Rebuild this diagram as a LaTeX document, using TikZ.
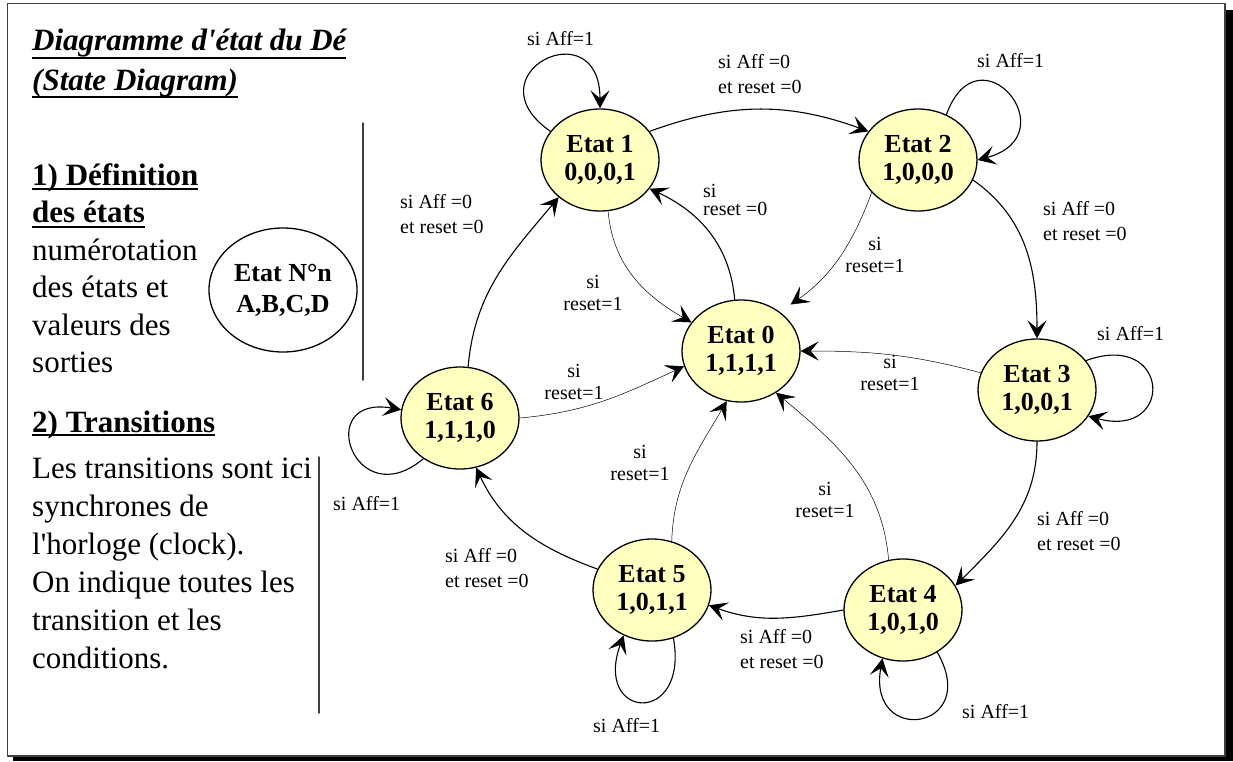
\documentclass[tikz,border=0pt]{standalone}
\usepackage{fontspec}
\setmainfont{Liberation Serif}
\usetikzlibrary{arrows.meta,shapes.geometric}
\definecolor{jaune}{RGB}{255,255,192}
\newsavebox{\boitesoul}
\newcommand{\souligne}[2][5pt]{\sbox{\boitesoul}{#2}\rlap{\rule[-#1]{\wd\boitesoul}{2pt}}\usebox{\boitesoul}}
\begin{document}
\begin{tikzpicture}[x=1pt,y=1pt,line join=round,line cap=round,
  >={Stealth[length=18pt,width=19pt,inset=8pt]},
  etat/.style={ellipse,draw,line width=1.3pt,fill=jaune,minimum width=118pt,minimum height=102pt,inner sep=0pt,align=center,font=\fontsize{26}{28}\selectfont\bfseries},
  cond/.style={anchor=base west,inner sep=0pt,align=left,font=\fontsize{20}{25}\selectfont},
  condc/.style={anchor=base,inner sep=0pt,align=center,font=\fontsize{20}{22}\selectfont},
  aff/.style={->,line width=1.1pt},
  rst/.style={->,line width=0.5pt},
  txt/.style={anchor=base west,inner sep=0pt,align=left,font=\fontsize{31}{37.5}\selectfont}]
\useasboundingbox (0,0) rectangle (1233,-761);
% cadre et ombre
\fill (13,-10) rectangle (1233,-761);
\draw[fill=white,draw=black!75,line width=1.5pt] (7.5,-3.5) rectangle (1225,-756);
% colonne de gauche (ancrage sur la derniere ligne)
\node[txt,font=\fontsize{31}{40}\selectfont\bfseries\itshape] (titre) at (32,-90)
  {\souligne[9pt]{Diagramme d\textquotesingle état du Dé}\\\souligne[8pt]{(State Diagram)}};
\node[txt] (defin) at (32,-372.5) {\textbf{\souligne{1) Définition}}\\\textbf{\souligne{des états}}\\numérotation\\des états et\\valeurs des\\sorties};
\node[txt] (trans) at (32,-432) {\textbf{\souligne[4pt]{2) Transitions}}};
\node[txt,font=\fontsize{31}{38}\selectfont] (expl) at (32,-668) {Les transitions sont ici\\synchrones de\\l\textquotesingle horloge (clock).\\On indique toutes les\\transition et les\\conditions.};
\node[ellipse,draw,line width=1.3pt,minimum width=148pt,minimum height=124pt,inner sep=0pt,align=center,font=\fontsize{26}{31}\selectfont\bfseries] (legende) at (283,-290) {Etat N°n\\A,B,C,D};
\draw[line width=1.5pt,black!75] (363,-123) -- (363,-380);
\draw[line width=1.5pt,black!75] (319,-457) -- (319,-713);
% etats
\node[etat] (e0) at (741,-351) {Etat 0\\1,1,1,1};
\node[etat] (e1) at (600,-160) {Etat 1\\0,0,0,1};
\node[etat] (e2) at (918,-160) {Etat 2\\1,0,0,0};
\node[etat] (e3) at (1037,-390) {Etat 3\\1,0,0,1};
\node[etat] (e4) at (903,-610) {Etat 4\\1,0,1,0};
\node[etat] (e5) at (652,-590) {Etat 5\\1,0,1,1};
\node[etat] (e6) at (460,-418) {Etat 6\\1,1,1,0};
% transitions Aff=0
\draw[aff] (e1.30) to[out=20,in=160] (e2.150);
\draw[aff] (e2.-20) to[out=-35,in=90] (e3.90);
\draw[aff] (e3.-90) to[out=-90,in=45] (e4.25);
\draw[aff] (e4.180) to[out=190,in=-20] (e5.-15);
\draw[aff] (e5.159) to[out=160,in=-65] (e6.-72);
\draw[aff] (e6.81) to[out=85,in=230] (e1.222);
% boucles Aff=1
\draw[aff] (e1.150) to[out=145,in=90,distance=100pt] (e1.90);
\draw[aff] (e2.58) to[out=70,in=15,distance=95pt] (e2.0);
\draw[aff] (e3.31) to[out=20,in=-15,distance=90pt] (e3.-27);
\draw[aff] (e4.-51) to[out=-60,in=-100,distance=90pt] (e4.-113);
\draw[aff] (e5.-66) to[out=-80,in=-110,distance=90pt] (e5.-122);
\draw[aff] (e6.-132) to[out=-140,in=170,distance=90pt] (e6.172);
% reset
\draw[rst] (e1.-81) to[out=-85,in=150] (e0.150);
\draw[aff] (e0.97) to[out=95,in=-25] (e1.-30);
\draw[rst,shorten >=13pt] (e2.-145) to[out=-110,in=35] (e0.45);
\draw[rst] (e3.163) to[out=165,in=0] (e0.0);
\draw[rst] (e4.106) to[out=95,in=-40] (e0.-50);
\draw[rst] (e5.68) to[out=88,in=-120] (e0.-106);
\draw[rst] (e6.0) to[out=5,in=205] (e0.195);
% conditions
\node[cond] (c11) at (527,-45) {si Aff=1};
\node[cond] (c12) at (718,-93) {si Aff =0\\et reset =0};
\node[cond] (c22) at (977,-67) {si Aff=1};
\node[cond] (c23) at (1043,-240) {si Aff =0\\et reset =0};
\node[cond] (c33) at (1097,-340) {si Aff=1};
\node[cond] (c34) at (1037,-550) {si Aff =0\\et reset =0};
\node[cond] (c44) at (962,-718) {si Aff=1};
\node[cond] (c45) at (740,-668) {si Aff =0\\et reset =0};
\node[cond] (c55) at (593,-732) {si Aff=1};
\node[cond] (c56) at (445,-587) {si Aff =0\\et reset =0};
\node[cond] (c66) at (333,-510) {si Aff=1};
\node[cond] (c61) at (400,-233) {si Aff =0\\et reset =0};
\node[cond,font=\fontsize{20}{18}\selectfont] (c01) at (703,-215) {si\\reset =0};
\node[condc] (c10) at (593,-310) {si\\reset=1};
\node[condc] (c20) at (875,-272) {si\\reset=1};
\node[condc] (c30) at (890,-390) {si\\reset=1};
\node[condc] (c40) at (825,-517) {si\\reset=1};
\node[condc] (c50) at (640,-480) {si\\reset=1};
\node[condc] (c60) at (574,-399) {si\\reset=1};
\end{tikzpicture}
\end{document}
